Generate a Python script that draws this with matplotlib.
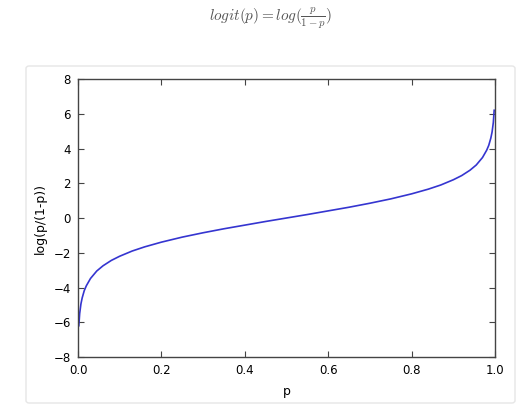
import matplotlib
matplotlib.use("Agg")
import matplotlib.pyplot as plt
from matplotlib.patches import FancyBboxPatch

# p values and logit readings taken off the reference curve
P_VALUES = [0.002, 0.004, 0.007, 0.01, 0.015, 0.02, 0.03, 0.045, 0.06, 0.08,
            0.1, 0.13, 0.16, 0.2, 0.25, 0.3, 0.35, 0.4, 0.45, 0.5,
            0.55, 0.6, 0.65, 0.7, 0.75, 0.8, 0.84, 0.87, 0.9, 0.92,
            0.94, 0.955, 0.97, 0.98, 0.985, 0.99, 0.993, 0.996, 0.998]
LOGIT_VALUES = [-6.2, -5.5, -4.95, -4.6, -4.18, -3.9, -3.48, -3.05, -2.75, -2.44,
                -2.2, -1.9, -1.66, -1.39, -1.1, -0.85, -0.62, -0.41, -0.2, 0.0,
                0.2, 0.41, 0.62, 0.85, 1.1, 1.39, 1.66, 1.9, 2.2, 2.44,
                2.75, 3.05, 3.48, 3.9, 4.18, 4.6, 4.95, 5.5, 6.2]
X_TICKS = [0.0, 0.2, 0.4, 0.6, 0.8, 1.0]
Y_TICKS = [-8, -6, -4, -2, 0, 2, 4, 6, 8]

plt.rcParams.update({"font.size": 8, "mathtext.fontset": "cm"})

fig = plt.figure(figsize=(5.3, 4.11), dpi=100)

# card behind the plot
card = FancyBboxPatch((26 / 530, 1 - 403 / 411), 489 / 530, 337 / 411,
                      boxstyle="round,pad=0,rounding_size=0.006",
                      transform=fig.transFigure, facecolor="white",
                      edgecolor="#e6e6e6", linewidth=1.0, zorder=-1)
fig.patches.append(card)

fig.text(0.51, 0.955, r"$logit(p) = log(\frac{p}{1-p})$", ha="center", va="center",
         fontsize=11, color="#555555")

ax = fig.add_axes([78 / 530, 1 - 357 / 411, 417 / 530, 278 / 411])
ax.set_zorder(1)
ax.plot(P_VALUES, LOGIT_VALUES, color="#3535d0", linewidth=1.2)
ax.set_xlim(0, 1)
ax.set_ylim(-8, 8)
ax.set_xticks(X_TICKS)
ax.set_yticks(Y_TICKS)
ax.set_xticklabels([f"{t:.1f}" for t in X_TICKS])
ax.set_yticklabels([f"{t}".replace("-", "\u2212") for t in Y_TICKS])
ax.tick_params(direction="in", top=True, right=True, length=4, width=0.8,
               color="#444444", labelsize=8.5, pad=5)
for s in ax.spines.values():
    s.set_color("#444444")
    s.set_linewidth(1.0)
ax.set_xlabel("p", fontsize=9, labelpad=6)
ax.set_ylabel("log(p/(1-p))", fontsize=9, labelpad=5)

fig.savefig("out.png", dpi=100)
